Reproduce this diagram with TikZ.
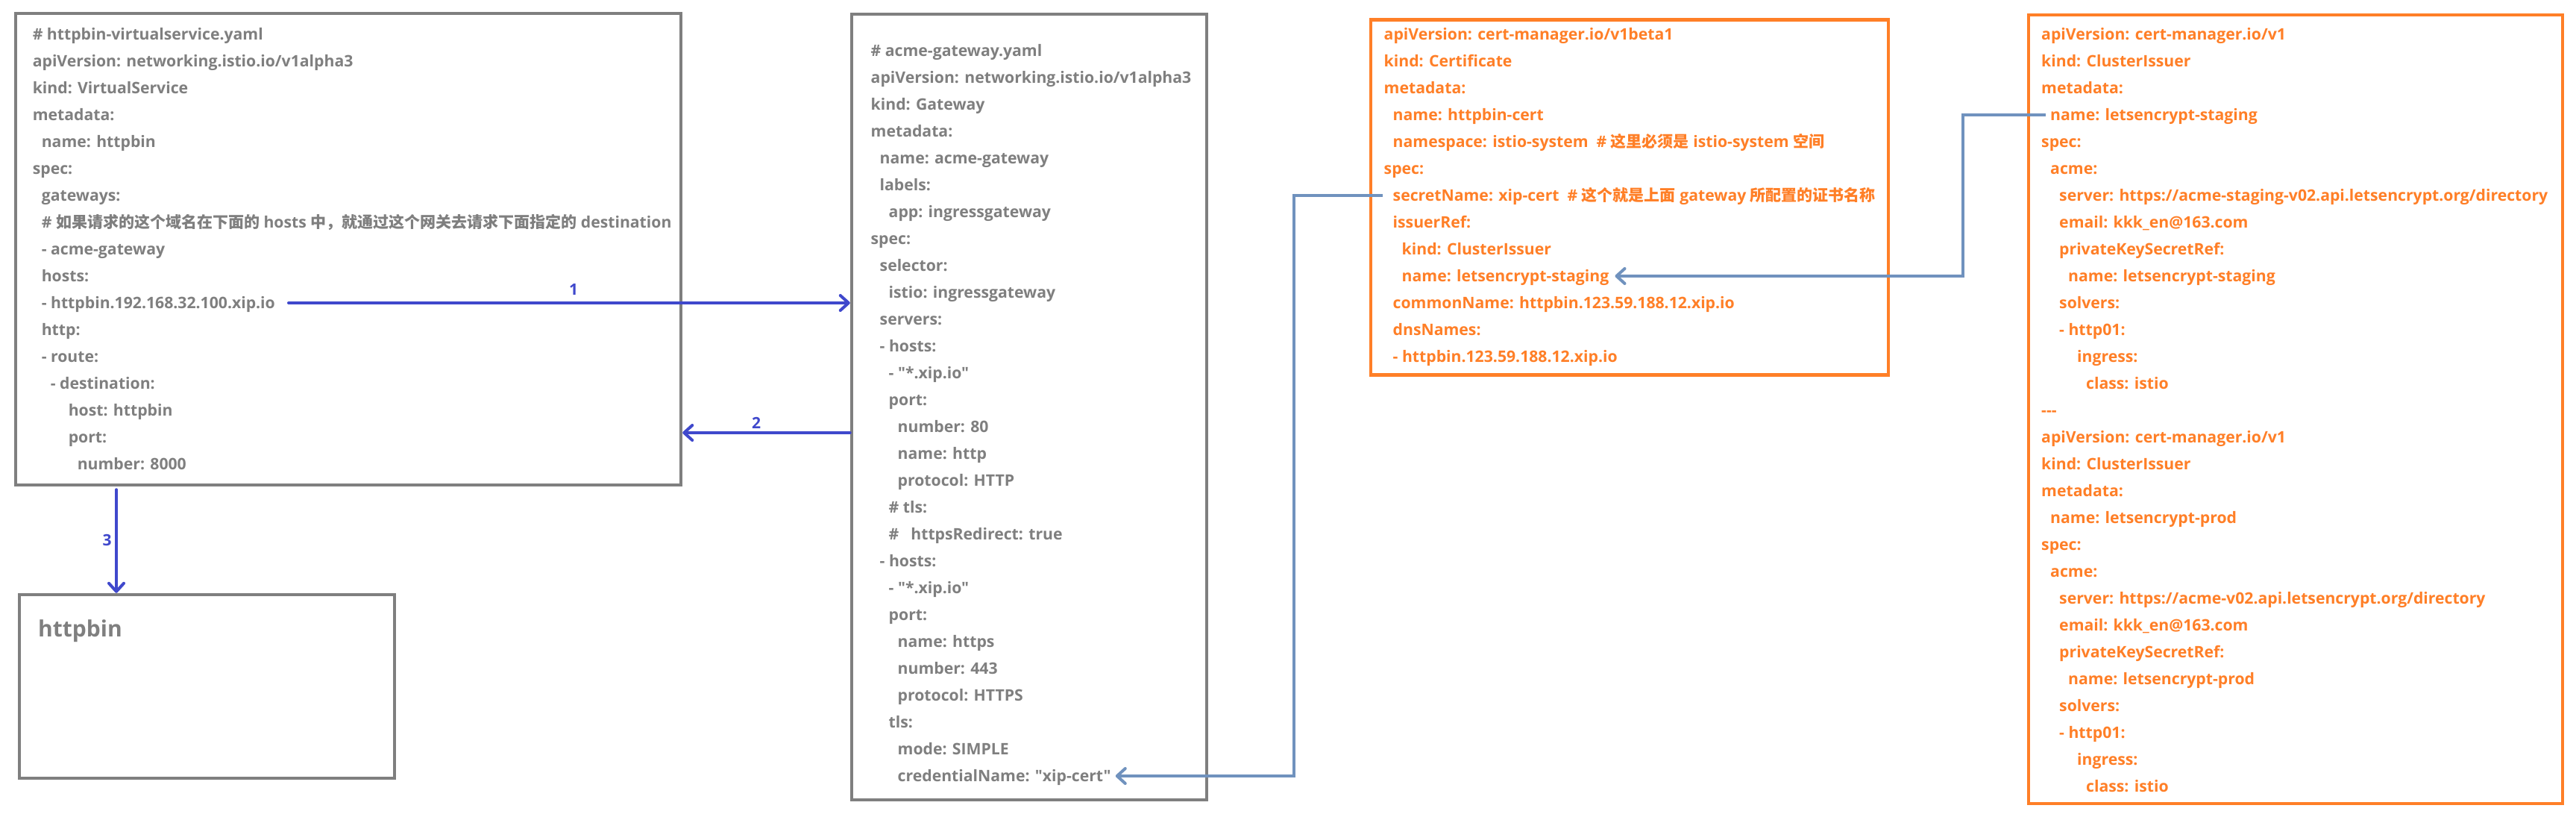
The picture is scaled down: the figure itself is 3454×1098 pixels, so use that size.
\documentclass[tikz,border=0pt]{standalone}
\usepackage{fontspec}
\setmainfont{Open Sans}
\newfontfamily\yf{Open Sans}
\newfontfamily\cjk{Noto Sans CJK SC}
\usetikzlibrary{arrows.meta,calc}
\definecolor{framegray}{RGB}{127,127,127}
\definecolor{textgray}{RGB}{127,127,127}
\definecolor{bluearr}{RGB}{63,72,204}
\definecolor{steel}{RGB}{112,146,190}
\definecolor{orng}{RGB}{255,127,39}
\newcommand\zh[1]{{\cjk\fontsize{21}{24}\selectfont #1}}
\tikzset{
  ln/.style={anchor=base west, inner sep=0pt, font=\yf\bfseries\fontsize{21.2}{26}\selectfont},
  graybox/.style={draw=framegray, line width=4.5pt, rectangle, inner sep=0pt},
  orangebox/.style={draw=orng, line width=4.5pt, rectangle, inner sep=0pt},
  bluearrow/.style={draw=bluearr, line width=4pt, line cap=round, -{Straight Barb[length=11pt,width=20pt,round]}},
  steelarrow/.style={draw=steel, line width=4pt, -{Straight Barb[length=11pt,width=20pt,round]}},
  lbl/.style={text=bluearr, inner sep=0pt, font=\yf\bfseries\fontsize{21}{24}\selectfont},
}
\newcommand\yamlV[3]{\node[ln] (v#1) at ({43.6+#2},{17+36*#1}) {#3};}
\newcommand\yamlG[3]{\node[ln] (g#1) at ({1167.5+#2},{39+36*#1}) {#3};}
\newcommand\yamlC[3]{\node[ln] (c#1) at ({1855.5+#2},{17+36*#1}) {#3};}
\newcommand\yamlI[3]{\node[ln] (i#1) at ({2737+#2},{17+36*#1}) {#3};}
\begin{document}
\begin{tikzpicture}[x=1pt,y=-1pt]
\useasboundingbox[fill=white] (0,0) rectangle (3454,1098);
% frames
\node[graybox, minimum width=892pt, minimum height=632pt] (vs) at (467,334) {};
\node[graybox, minimum width=476pt, minimum height=1053pt] (gw) at (1380,545.5) {};
\node[graybox, minimum width=503pt, minimum height=246pt] (hb) at (277.5,920) {};
\node[orangebox, minimum width=694pt, minimum height=476pt] (cert) at (2185,264.5) {};
\node[orangebox, minimum width=716pt, minimum height=1057pt] (iss) at (3078,548.5) {};
% virtual service
\begin{scope}[text=textgray]
\yamlV{1}{0}{\# httpbin-virtualservice.yaml}
\yamlV{2}{0}{apiVersion: networking.istio.io/v1alpha3}
\yamlV{3}{0}{kind: VirtualService}
\yamlV{4}{0}{metadata:}
\yamlV{5}{12}{name: httpbin}
\yamlV{6}{0}{spec:}
\yamlV{7}{12}{gateways:}
\yamlV{8}{12}{\# \zh{如果请求的这个域名在下面的} hosts \zh{中，就通过这个网关去请求下面指定的} destination}
\yamlV{9}{12}{- acme-gateway}
\yamlV{10}{12}{hosts:}
\yamlV{11}{12}{- httpbin.192.168.32.100.xip.io}
\yamlV{12}{12}{http:}
\yamlV{13}{12}{- route:}
\yamlV{14}{24}{- destination:}
\yamlV{15}{48}{host: httpbin}
\yamlV{16}{48}{port:}
\yamlV{17}{60}{number: 8000}
% gateway
\yamlG{1}{0}{\# acme-gateway.yaml}
\yamlG{2}{0}{apiVersion: networking.istio.io/v1alpha3}
\yamlG{3}{0}{kind: Gateway}
\yamlG{4}{0}{metadata:}
\yamlG{5}{12}{name: acme-gateway}
\yamlG{6}{12}{labels:}
\yamlG{7}{24}{app: ingressgateway}
\yamlG{8}{0}{spec:}
\yamlG{9}{12}{selector:}
\yamlG{10}{24}{istio: ingressgateway}
\yamlG{11}{12}{servers:}
\yamlG{12}{12}{- hosts:}
\yamlG{13}{24}{- "*.xip.io"}
\yamlG{14}{24}{port:}
\yamlG{15}{36}{number: 80}
\yamlG{16}{36}{name: http}
\yamlG{17}{36}{protocol: HTTP}
\yamlG{18}{24}{\# tls:}
\yamlG{19}{24}{\#\hspace{16pt}httpsRedirect: true}
\yamlG{20}{12}{- hosts:}
\yamlG{21}{24}{- "*.xip.io"}
\yamlG{22}{24}{port:}
\yamlG{23}{36}{name: https}
\yamlG{24}{36}{number: 443}
\yamlG{25}{36}{protocol: HTTPS}
\yamlG{26}{24}{tls:}
\yamlG{27}{36}{mode: SIMPLE}
\yamlG{28}{36}{credentialName: "xip-cert"}
% httpbin
\node[anchor=base west, inner sep=0pt, font=\yf\bfseries\fontsize{30}{36}\selectfont] (hbt) at (51,853) {httpbin};
\end{scope}
% certificate
\begin{scope}[text=orng]
\yamlC{1}{0}{apiVersion: cert-manager.io/v1beta1}
\yamlC{2}{0}{kind: Certificate}
\yamlC{3}{0}{metadata:}
\yamlC{4}{12}{name: httpbin-cert}
\yamlC{5}{12}{namespace: istio-system\hspace{11pt}\# \zh{这里必须是} istio-system \zh{空间}}
\yamlC{6}{0}{spec:}
\yamlC{7}{12}{secretName: xip-cert\hspace{11pt}\# \zh{这个就是上面} gateway \zh{所配置的证书名称}}
\yamlC{8}{12}{issuerRef:}
\yamlC{9}{24}{kind: ClusterIssuer}
\yamlC{10}{24}{name: letsencrypt-staging}
\yamlC{11}{12}{commonName: httpbin.123.59.188.12.xip.io}
\yamlC{12}{12}{dnsNames:}
\yamlC{13}{12}{- httpbin.123.59.188.12.xip.io}
% cluster issuers
\yamlI{1}{0}{apiVersion: cert-manager.io/v1}
\yamlI{2}{0}{kind: ClusterIssuer}
\yamlI{3}{0}{metadata:}
\yamlI{4}{12}{name: letsencrypt-staging}
\yamlI{5}{0}{spec:}
\yamlI{6}{12}{acme:}
\yamlI{7}{24}{server: https://acme-staging-v02.api.letsencrypt.org/directory}
\yamlI{8}{24}{email: kkk\_en@163.com}
\yamlI{9}{24}{privateKeySecretRef:}
\yamlI{10}{36}{name: letsencrypt-staging}
\yamlI{11}{24}{solvers:}
\yamlI{12}{24}{- http01:}
\yamlI{13}{48}{ingress:}
\yamlI{14}{60}{class: istio}
\yamlI{15}{0}{---}
\yamlI{16}{0}{apiVersion: cert-manager.io/v1}
\yamlI{17}{0}{kind: ClusterIssuer}
\yamlI{18}{0}{metadata:}
\yamlI{19}{12}{name: letsencrypt-prod}
\yamlI{20}{0}{spec:}
\yamlI{21}{12}{acme:}
\yamlI{22}{24}{server: https://acme-v02.api.letsencrypt.org/directory}
\yamlI{23}{24}{email: kkk\_en@163.com}
\yamlI{24}{24}{privateKeySecretRef:}
\yamlI{25}{36}{name: letsencrypt-prod}
\yamlI{26}{24}{solvers:}
\yamlI{27}{24}{- http01:}
\yamlI{28}{48}{ingress:}
\yamlI{29}{60}{class: istio}
\end{scope}
% blue connectors
\coordinate (a1s) at ([shift={(18,-7)}]v11.base east);
\draw[bluearrow] (a1s) -- (a1s -| gw.west);
\coordinate (y2) at (0,580);
\draw[bluearrow] (gw.west |- y2) -- (vs.east |- y2);
\coordinate (x3) at (156,0);
\draw[bluearrow] ([yshift=-4pt]vs.south -| x3) -- (hb.north -| x3);
\node[lbl] (l1) at (769,388) {1};
\node[lbl] (l2) at (1014,567) {2};
\node[lbl] (l3) at (143.5,724) {3};
% steel connectors
\coordinate (sAs) at ([shift={(-14,-7)}]c7.base west);
\coordinate (sAt) at ([shift={(6,-7)}]g28.base east);
\coordinate (sAx) at (1735,0);
\draw[steelarrow] (sAs) -- (sAs -| sAx) -- (sAx |- sAt) -- (sAt);
\coordinate (sBs) at ([shift={(-6,-7)}]i4.base west);
\coordinate (sBt) at ([shift={(8,-7)}]c10.base east);
\coordinate (sBx) at (2632,0);
\draw[steelarrow] (sBs) -- (sBs -| sBx) -- (sBx |- sBt) -- (sBt);
\end{tikzpicture}
\end{document}
